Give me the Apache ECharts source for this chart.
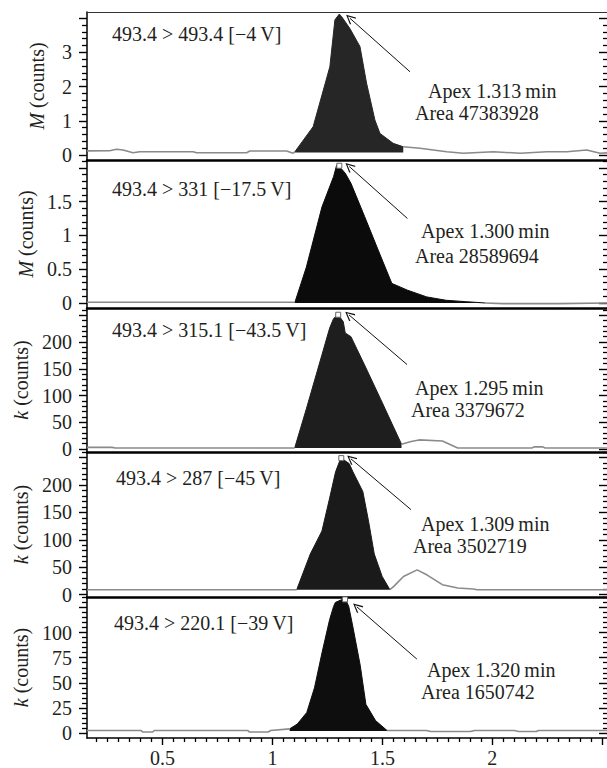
<!DOCTYPE html>
<html>
<head>
<meta charset="utf-8">
<script src="https://cdn.jsdelivr.net/npm/echarts@6/dist/echarts.min.js"></script>
<style>
  html, body { margin: 0; padding: 0; background: #fff; }
  #chart { width: 607px; height: 768px; }
</style>
</head>
<body>
<div id="chart"></div>
<script>
// retention time (min) vs counts, one trace per MRM transition
// each panel: baseline left of the peak, the integrated peak, baseline right of it
const p1Left = [[0.156, 0.12], [0.259, 0.125], [0.29, 0.166], [0.32, 0.145], [0.365, 0.066], [0.396, 0.096], [0.639, 0.096], [0.654, 0.066], [0.882, 0.066], [0.897, 0.116], [1.064, 0.116], [1.094, 0.05], [1.102, 0.096]];
const p1Peak = [[1.102, 0.096], [1.185, 0.827], [1.261, 2.58], [1.284, 3.95], [1.304, 4.12], [1.315, 4.04], [1.352, 3.7], [1.398, 3.17], [1.428, 2.1], [1.466, 1.02], [1.489, 0.63], [1.549, 0.34], [1.595, 0.24]];
const p1Right = [[1.595, 0.24], [1.671, 0.195], [1.793, 0.096], [1.868, 0.049], [2.005, 0.096], [2.127, 0.049], [2.248, 0.096], [2.339, 0.096], [2.43, 0.145], [2.49, 0.049], [2.522, 0.06]];

const p2Left = [[0.156, 0.01], [1.101, 0.01]];
const p2Peak = [[1.101, 0], [1.154, 0.53], [1.225, 1.42], [1.278, 1.87], [1.292, 2.04], [1.304, 2.02], [1.331, 1.92], [1.357, 1.77], [1.419, 1.28], [1.49, 0.71], [1.543, 0.29], [1.614, 0.19], [1.702, 0.09], [1.79, 0.04], [1.879, 0.02], [1.967, 0]];
const p2Right = [[1.967, 0], [2.05, -0.01], [2.3, -0.01], [2.522, 0]];

const p3Left = [[0.156, 3], [0.27, 3], [0.285, 2], [1.101, 2]];
const p3Peak = [[1.101, 2], [1.154, 75], [1.225, 176], [1.26, 226], [1.278, 244], [1.299, 251], [1.322, 238], [1.331, 217], [1.357, 210], [1.419, 157], [1.49, 95], [1.543, 48], [1.587, 9]];
const p3Right = [[1.587, 9], [1.631, 14], [1.667, 17], [1.773, 15], [1.843, 2], [2.18, 2], [2.19, 4], [2.23, 4], [2.24, 2], [2.522, 2]];

const p4Left = [[0.156, 8.6], [1.11, 8.6]];
const p4Peak = [[1.11, 8.6], [1.172, 74], [1.225, 116], [1.26, 176], [1.287, 224], [1.304, 242], [1.313, 249], [1.349, 239], [1.366, 224], [1.411, 188], [1.437, 134], [1.463, 74], [1.499, 33], [1.534, 9]];
const p4Right = [[1.534, 9], [1.552, 15], [1.596, 33], [1.658, 45], [1.702, 36], [1.773, 18], [1.843, 12], [1.914, 10], [1.931, 8.6], [2.522, 8.6]];

const p5Left = [[0.156, 2.6], [0.401, 2.6], [0.41, 1], [0.455, 1], [0.462, 2.6], [0.887, 2.6], [0.895, 1], [0.98, 1], [0.991, 2.6], [1.078, 4.2]];
const p5Peak = [[1.078, 4.2], [1.113, 9], [1.156, 20.5], [1.191, 45], [1.226, 80.6], [1.26, 113], [1.278, 126], [1.286, 130], [1.313, 132.6], [1.33, 134.2], [1.347, 126], [1.365, 106.6], [1.399, 67.6], [1.425, 28.6], [1.469, 12.4], [1.521, 2.6]];
const p5Right = [[1.521, 2.6], [1.7, 2.6], [1.72, 1.5], [1.9, 1.5], [1.92, 2.6], [2.1, 2.6], [2.12, 1.5], [2.2, 1.5], [2.21, 2.6], [2.522, 2.6]];

// level the integrated area is filled down to
const peakBase = [0.07, 0, 2, 8.6, 2];

// apex marker and arrow (from the annotation towards the apex), data coords
const apexMarks = [null, [1.304, 2.03], [1.299, 251], [1.313, 249], [1.33, 133]];
const arrowFrom = [[1.626, 2.43], [1.614, 1.25], [1.612, 158], [1.63, 155], [1.657, 73.6]];
const arrowTo = [[1.352, 4.0], [1.349, 2.02], [1.348, 250.7], [1.357, 247.7], [1.384, 125.6]];

// texts
const transitions = ['493.4 > 493.4 [\u22124\u2009V]', '493.4 > 331 [\u221217.5\u2009V]', '493.4 > 315.1 [\u221243.5\u2009V]', '493.4 > 287 [\u221245\u2009V]', '493.4 > 220.1 [\u221239\u2009V]'];
const apexTimes = ['1.313', '1.300', '1.295', '1.309', '1.320'];
const areas = ['47383928', '28589694', '3379672', '3502719', '1650742'];
const yNames = ['{i|M} (counts)', '{i|M} (counts)', '{i|k} (counts)', '{i|k} (counts)', '{i|k} (counts)'];

// axes
const xRange = [0.156, 2.522];
const xMajor = [0.5, 1, 1.5, 2, 2.5];
const xLabels = [0.5, 1, 1.5, 2];
const xMinorStep = 0.05;
const yRanges = [[-0.147, 4.18], [-0.074, 2.115], [-5.6, 263.6], [-4.5, 260.2], [-4.9, 135.4]];
const yMajor = [[0, 1, 2, 3, 4], [0, 0.5, 1, 1.5, 2], [0, 50, 100, 150, 200, 250], [0, 50, 100, 150, 200, 250], [0, 25, 50, 75, 100, 125]];
const yLabels = [[0, 1, 2, 3], [0, 0.5, 1, 1.5], [0, 50, 100, 150, 200], [0, 50, 100, 150, 200], [0, 25, 50, 75, 100]];
const yMinorStep = [0.2, 0.1, 10, 10, 5];

const panels = [
  [p1Left, p1Peak, p1Right],
  [p2Left, p2Peak, p2Right],
  [p3Left, p3Peak, p3Right],
  [p4Left, p4Peak, p4Right],
  [p5Left, p5Peak, p5Right],
];

// layout
const gridTops = [12, 160, 308, 452, 597];
const gridHeights = [148, 148, 144, 145, 143];
const fillColors = ['#262626', '#0b0b0b', '#1e1e1e', '#1a1a1a', '#0e0e0e'];
const traceColor = '#8a8a8a';
const ink = '#231f20';
const serif = '"Liberation Serif", "DejaVu Serif", serif';
const textPos = [ // [transition x,y], [apex x,y], [area x,y]
  [[112, 34], [428, 91], [415, 113]],
  [[112, 189], [421, 231], [415, 256]],
  [[112, 330], [415, 388], [411, 410]],
  [[116, 478], [421, 524], [413, 546]],
  [[114, 623], [427, 670], [421, 692]],
];

function minorTicks(lo, hi, step, majors) {
  const out = [];
  const start = Math.ceil(lo / step - 1e-9);
  const end = Math.floor(hi / step + 1e-9);
  for (let k = start; k <= end; k++) {
    const v = +(k * step).toFixed(6);
    if (!majors.some(m => Math.abs(m - v) < 1e-9)) out.push(v);
  }
  return out;
}

const chevron = 'path://M5,0 L10,9 L9,10 L5,2.5 L1,10 L0,9 Z';
const labelFont = { fontFamily: serif, fontSize: 20, color: ink };

const grids = [], xAxes = [], yAxes = [], series = [], graphics = [];
const extraX = [], extraY = [];

panels.forEach((p, i) => {
  const last = i === panels.length - 1;
  grids.push({ left: 87, right: 0, top: gridTops[i], height: gridHeights[i] });

  xAxes.push({
    type: 'value', gridIndex: i, min: xRange[0], max: xRange[1], position: 'bottom',
    axisLine: { show: true, onZero: false, lineStyle: { color: '#000', width: last ? 1.5 : 2.5 } },
    axisTick: last
      ? { show: true, customValues: xMajor, length: 7, lineStyle: { color: '#000', width: 1.4 } }
      : { show: false },
    axisLabel: last
      ? Object.assign({ show: true, customValues: xLabels, margin: 10 }, labelFont)
      : { show: false },
    splitLine: { show: false },
  });
  if (last) {
    extraX.push({
      type: 'value', gridIndex: i, min: xRange[0], max: xRange[1], position: 'bottom',
      axisLine: { show: false, onZero: false },
      axisTick: { show: true, customValues: minorTicks(xRange[0], xRange[1], xMinorStep, xMajor), length: 4, lineStyle: { color: '#000', width: 1.3 } },
      axisLabel: { show: false }, splitLine: { show: false },
    });
  }
  if (i === 0) {
    extraX.push({
      type: 'value', gridIndex: i, min: xRange[0], max: xRange[1], position: 'top',
      axisLine: { show: true, onZero: false, lineStyle: { color: '#333', width: 1.2 } },
      axisTick: { show: false }, axisLabel: { show: false }, splitLine: { show: false },
    });
  }

  const [lo, hi] = yRanges[i];
  const minors = minorTicks(lo, hi, yMinorStep[i], yMajor[i]);
  yAxes.push({
    type: 'value', gridIndex: i, min: lo, max: hi, position: 'left',
    axisLine: { show: true, onZero: false, lineStyle: { color: '#000', width: 1.5 } },
    axisTick: { show: true, customValues: yMajor[i], length: 8, lineStyle: { color: '#000', width: 1.4 } },
    axisLabel: Object.assign({ show: true, customValues: yLabels[i], margin: 15 }, labelFont),
    splitLine: { show: false },
    name: yNames[i], nameLocation: 'middle', nameGap: 40, nameRotate: 90,
    nameTextStyle: Object.assign({ rich: { i: { fontFamily: serif, fontSize: 20, fontStyle: 'italic', color: ink } } }, labelFont),
  });
  extraY.push({
    type: 'value', gridIndex: i, min: lo, max: hi, position: 'left',
    axisLine: { show: false, onZero: false },
    axisTick: { show: true, customValues: minors, length: 5, lineStyle: { color: '#000', width: 1.3 } },
    axisLabel: { show: false }, splitLine: { show: false },
  });
  extraY.push({
    type: 'value', gridIndex: i, min: lo, max: hi, position: 'right',
    axisLine: { show: false, onZero: false },
    axisTick: { show: true, inside: true, customValues: yMajor[i], length: 8, lineStyle: { color: '#000', width: 1.4 } },
    axisLabel: { show: false }, splitLine: { show: false },
  });
  extraY.push({
    type: 'value', gridIndex: i, min: lo, max: hi, position: 'right',
    axisLine: { show: false, onZero: false },
    axisTick: { show: true, inside: true, customValues: minors, length: 4, lineStyle: { color: '#000', width: 1.3 } },
    axisLabel: { show: false }, splitLine: { show: false },
  });

  const [left, peak, right] = p;
  const trace = (data) => ({
    type: 'line', xAxisIndex: i, yAxisIndex: i, data, symbol: 'none',
    lineStyle: { color: traceColor, width: 1.6 }, z: 3,
  });
  series.push(trace(left), trace(right));
  series.push({
    type: 'line', xAxisIndex: i, yAxisIndex: i, data: peak, symbol: 'none', z: 2,
    lineStyle: { color: fillColors[i], width: 1 },
    areaStyle: { color: fillColors[i], opacity: 1, origin: peakBase[i] },
    markPoint: apexMarks[i] ? {
      silent: true, symbol: 'rect', symbolSize: 5,
      itemStyle: { color: '#fff', borderColor: '#666', borderWidth: 1 },
      label: { show: false },
      data: [{ coord: apexMarks[i] }],
    } : undefined,
    markLine: {
      silent: true, symbol: ['none', chevron], symbolSize: [9, 10],
      lineStyle: { color: '#111', width: 1, type: 'solid' },
      label: { show: false },
      data: [[{ coord: arrowFrom[i] }, { coord: arrowTo[i] }]],
    },
  });

  const [tp, ap, arp] = textPos[i];
  const txt = (x, y, text) => ({
    type: 'text', x, y, z: 10,
    style: { text, font: '20px ' + serif, fill: ink, verticalAlign: 'middle', align: 'left' },
  });
  graphics.push(txt(tp[0], tp[1], transitions[i]));
  graphics.push(txt(ap[0], ap[1], 'Apex ' + apexTimes[i] + '\u2009min'));
  graphics.push(txt(arp[0], arp[1], 'Area ' + areas[i]));
});

const chart = echarts.init(document.getElementById('chart'), null, { renderer: 'svg' });
chart.setOption({
  animation: false,
  backgroundColor: '#fff',
  grid: grids,
  xAxis: xAxes.concat(extraX),
  yAxis: yAxes.concat(extraY),
  series,
  graphic: graphics,
});
</script>
</body>
</html>
